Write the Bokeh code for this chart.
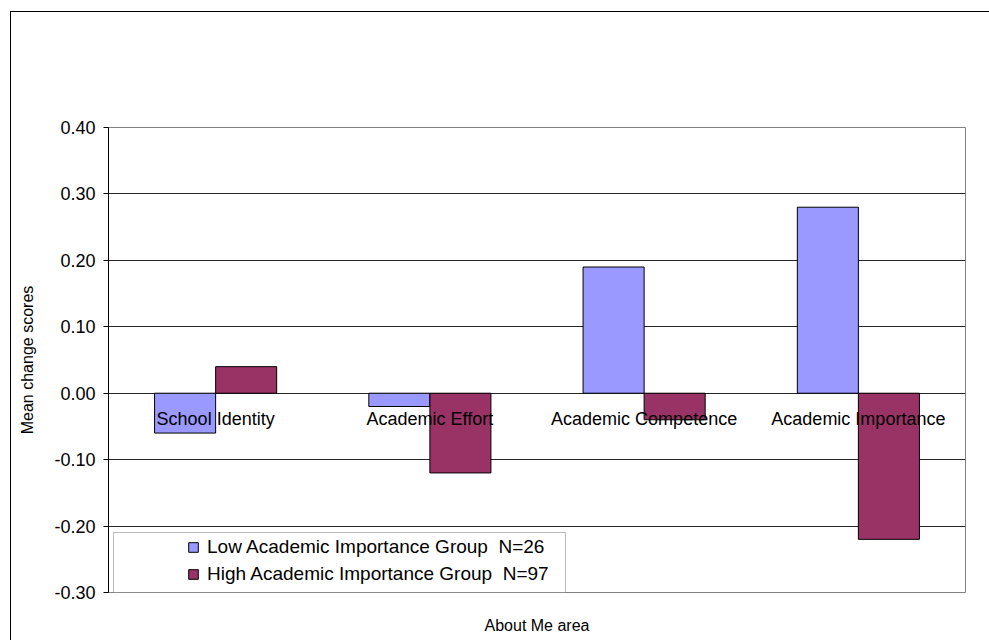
from bokeh.plotting import figure
from bokeh.layouts import column
from bokeh.models import (Range1d, FixedTicker, NumeralTickFormatter, Legend,
                          LegendItem, BoxAnnotation, ColumnDataSource)
from bokeh.transform import dodge
from bokeh.core.properties import value
from bokeh.embed import file_html
from bokeh.resources import INLINE

# ---- data ----
categories = ["School Identity", "Academic Effort", "Academic Competence", "Academic Importance"]
low_group = [-0.06, -0.02, 0.19, 0.28]
high_group = [0.04, -0.12, -0.04, -0.22]
series_names = ["Low Academic Importance Group  N=26", "High Academic Importance Group  N=97"]
y_ticks = [-0.30, -0.20, -0.10, 0.00, 0.10, 0.20, 0.30, 0.40]
y_title = "Mean change scores"
x_title = "About Me area"

FONT = "Liberation Sans"
BLUE = "#9999FF"
PLUM = "#993366"

src = ColumnDataSource(dict(cat=categories, low=low_group, high=high_group,
                            zero=[0.0] * len(categories)))

# the figure sits inside a framed box that starts at (10, 11) on the page
p = figure(x_range=categories, y_range=Range1d(y_ticks[0], y_ticks[-1]),
           width=978, height=628, output_backend="svg", toolbar_location=None,
           min_border_left=97, min_border_right=24, min_border_top=115,
           min_border_bottom=48)

p.x_range.range_padding = 0

bw = 0.285
r_low = p.vbar(x=dodge("cat", -bw / 2, range=p.x_range), top="low", bottom=0, width=bw,
               source=src, fill_color=BLUE, line_color="black", line_width=1)
r_high = p.vbar(x=dodge("cat", bw / 2, range=p.x_range), top="high", bottom=0, width=bw,
                source=src, fill_color=PLUM, line_color="black", line_width=1)

# category labels sit just below the zero line
p.text(x="cat", y="zero", text="cat", source=src, text_align="center",
       text_baseline="middle", y_offset=26, text_font=value(FONT),
       text_font_size="18px", text_color="black")

# y axis
p.yaxis.ticker = FixedTicker(ticks=y_ticks)
p.yaxis.formatter = NumeralTickFormatter(format="0.00")
p.yaxis.major_label_text_font = FONT
p.yaxis.major_label_text_font_size = "18px"
p.yaxis.major_label_text_color = "black"
p.yaxis.major_tick_in = 0
p.yaxis.major_tick_out = 5
p.yaxis.minor_tick_line_color = None
p.yaxis.axis_line_color = "black"
p.yaxis.major_tick_line_color = "black"
p.yaxis.major_label_standoff = 8
p.yaxis.axis_label = y_title
p.yaxis.axis_label_text_font = FONT
p.yaxis.axis_label_text_font_size = "16px"
p.yaxis.axis_label_text_font_style = "normal"
p.yaxis.axis_label_text_color = "black"
p.yaxis.axis_label_standoff = 15

# x axis: only its title is shown (category names sit at the zero line)
p.xaxis.ticker = FixedTicker(ticks=[])
p.xaxis.major_label_standoff = 0
p.xaxis.major_tick_line_color = None
p.xaxis.minor_tick_line_color = None
p.xaxis.axis_line_color = None
p.xaxis.axis_label = x_title
p.xaxis.axis_label_text_font = FONT
p.xaxis.axis_label_text_font_size = "16px"
p.xaxis.axis_label_text_font_style = "normal"
p.xaxis.axis_label_text_color = "black"
p.xaxis.axis_label_standoff = 24

p.xgrid.grid_line_color = None
p.ygrid.grid_line_color = "#262626"
p.ygrid.grid_line_width = 1
p.outline_line_color = "#808080"

# legend frame
p.add_layout(BoxAnnotation(left=5, right=457, bottom=0, top=60,
                           left_units="screen", right_units="screen",
                           bottom_units="screen", top_units="screen",
                           fill_color="white", fill_alpha=1.0,
                           line_color="#202020", line_width=1, level="overlay"))

legend = Legend(items=[LegendItem(label=series_names[0], renderers=[r_low]),
                       LegendItem(label=series_names[1], renderers=[r_high])],
                location=(79, 5), orientation="vertical",
                glyph_width=12, glyph_height=12, label_height=27, spacing=0,
                padding=0, margin=0, label_standoff=8,
                label_text_font=FONT, label_text_font_size="19px",
                label_text_color="black",
                background_fill_alpha=0, border_line_color=None)
p.add_layout(legend, "center")

page = column(p, margin=(11, 0, 0, 10),
              styles={"border-left": "1px solid #000000",
                      "border-top": "1px solid #000000"})

open("out.html", "w").write(file_html(page, INLINE))
